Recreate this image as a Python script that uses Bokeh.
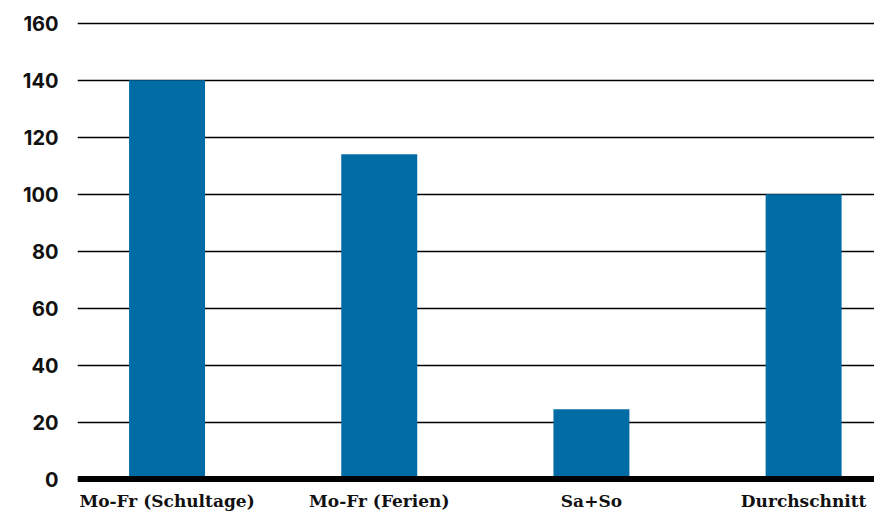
from bokeh.plotting import figure
from bokeh.models import FixedTicker, Span, ColumnDataSource
from bokeh.embed import file_html
from bokeh.resources import INLINE

categories = ["Mo-Fr (Schultage)", "Mo-Fr (Ferien)", "Sa+So", "Durchschnitt"]
values = [140, 114, 24.5, 100]
y_ticks = [0, 20, 40, 60, 80, 100, 120, 140, 160]

x_pos = list(range(len(categories)))
source = ColumnDataSource(data=dict(x=x_pos, top=values, cat=categories))

p = figure(frame_width=797, frame_height=462, output_backend="svg", toolbar_location=None,
           x_range=(-0.422, 3.334), y_range=(-1.2, 161),
           min_border_left=77, min_border_right=0, min_border_top=20, min_border_bottom=0)

p.vbar(x="x", top="top", bottom=0, width=0.358, source=source,
       fill_color="#006ca5", line_color=None)

p.add_layout(Span(location=0, dimension="width", line_color="black", line_width=6))

p.outline_line_color = None
p.background_fill_color = "white"
p.border_fill_color = "white"

p.xgrid.grid_line_color = None
p.ygrid.grid_line_color = "black"
p.ygrid.grid_line_width = 1.5
p.ygrid.ticker = FixedTicker(ticks=y_ticks)

p.yaxis.ticker = FixedTicker(ticks=y_ticks)
p.yaxis.axis_line_color = None
p.yaxis.major_tick_line_color = None
p.yaxis.minor_tick_line_color = None
p.yaxis.major_label_text_font = "Inter"
p.yaxis.major_label_text_font_style = "bold"
p.yaxis.major_label_text_font_size = "20px"
p.yaxis.major_label_text_color = "#111111"
p.yaxis.major_label_standoff = 13

p.xaxis.ticker = FixedTicker(ticks=x_pos)
p.xaxis.major_label_overrides = {i: c for i, c in zip(x_pos, categories)}
p.xaxis.axis_line_color = None
p.xaxis.major_tick_line_color = None
p.xaxis.minor_tick_line_color = None
p.xaxis.major_label_text_font = "DejaVu Serif"
p.xaxis.major_label_text_font_style = "bold"
p.xaxis.major_label_text_font_size = "17px"
p.xaxis.major_label_text_color = "#111111"
p.xaxis.major_label_standoff = 2

open("out.html", "w").write(file_html(p, INLINE))
